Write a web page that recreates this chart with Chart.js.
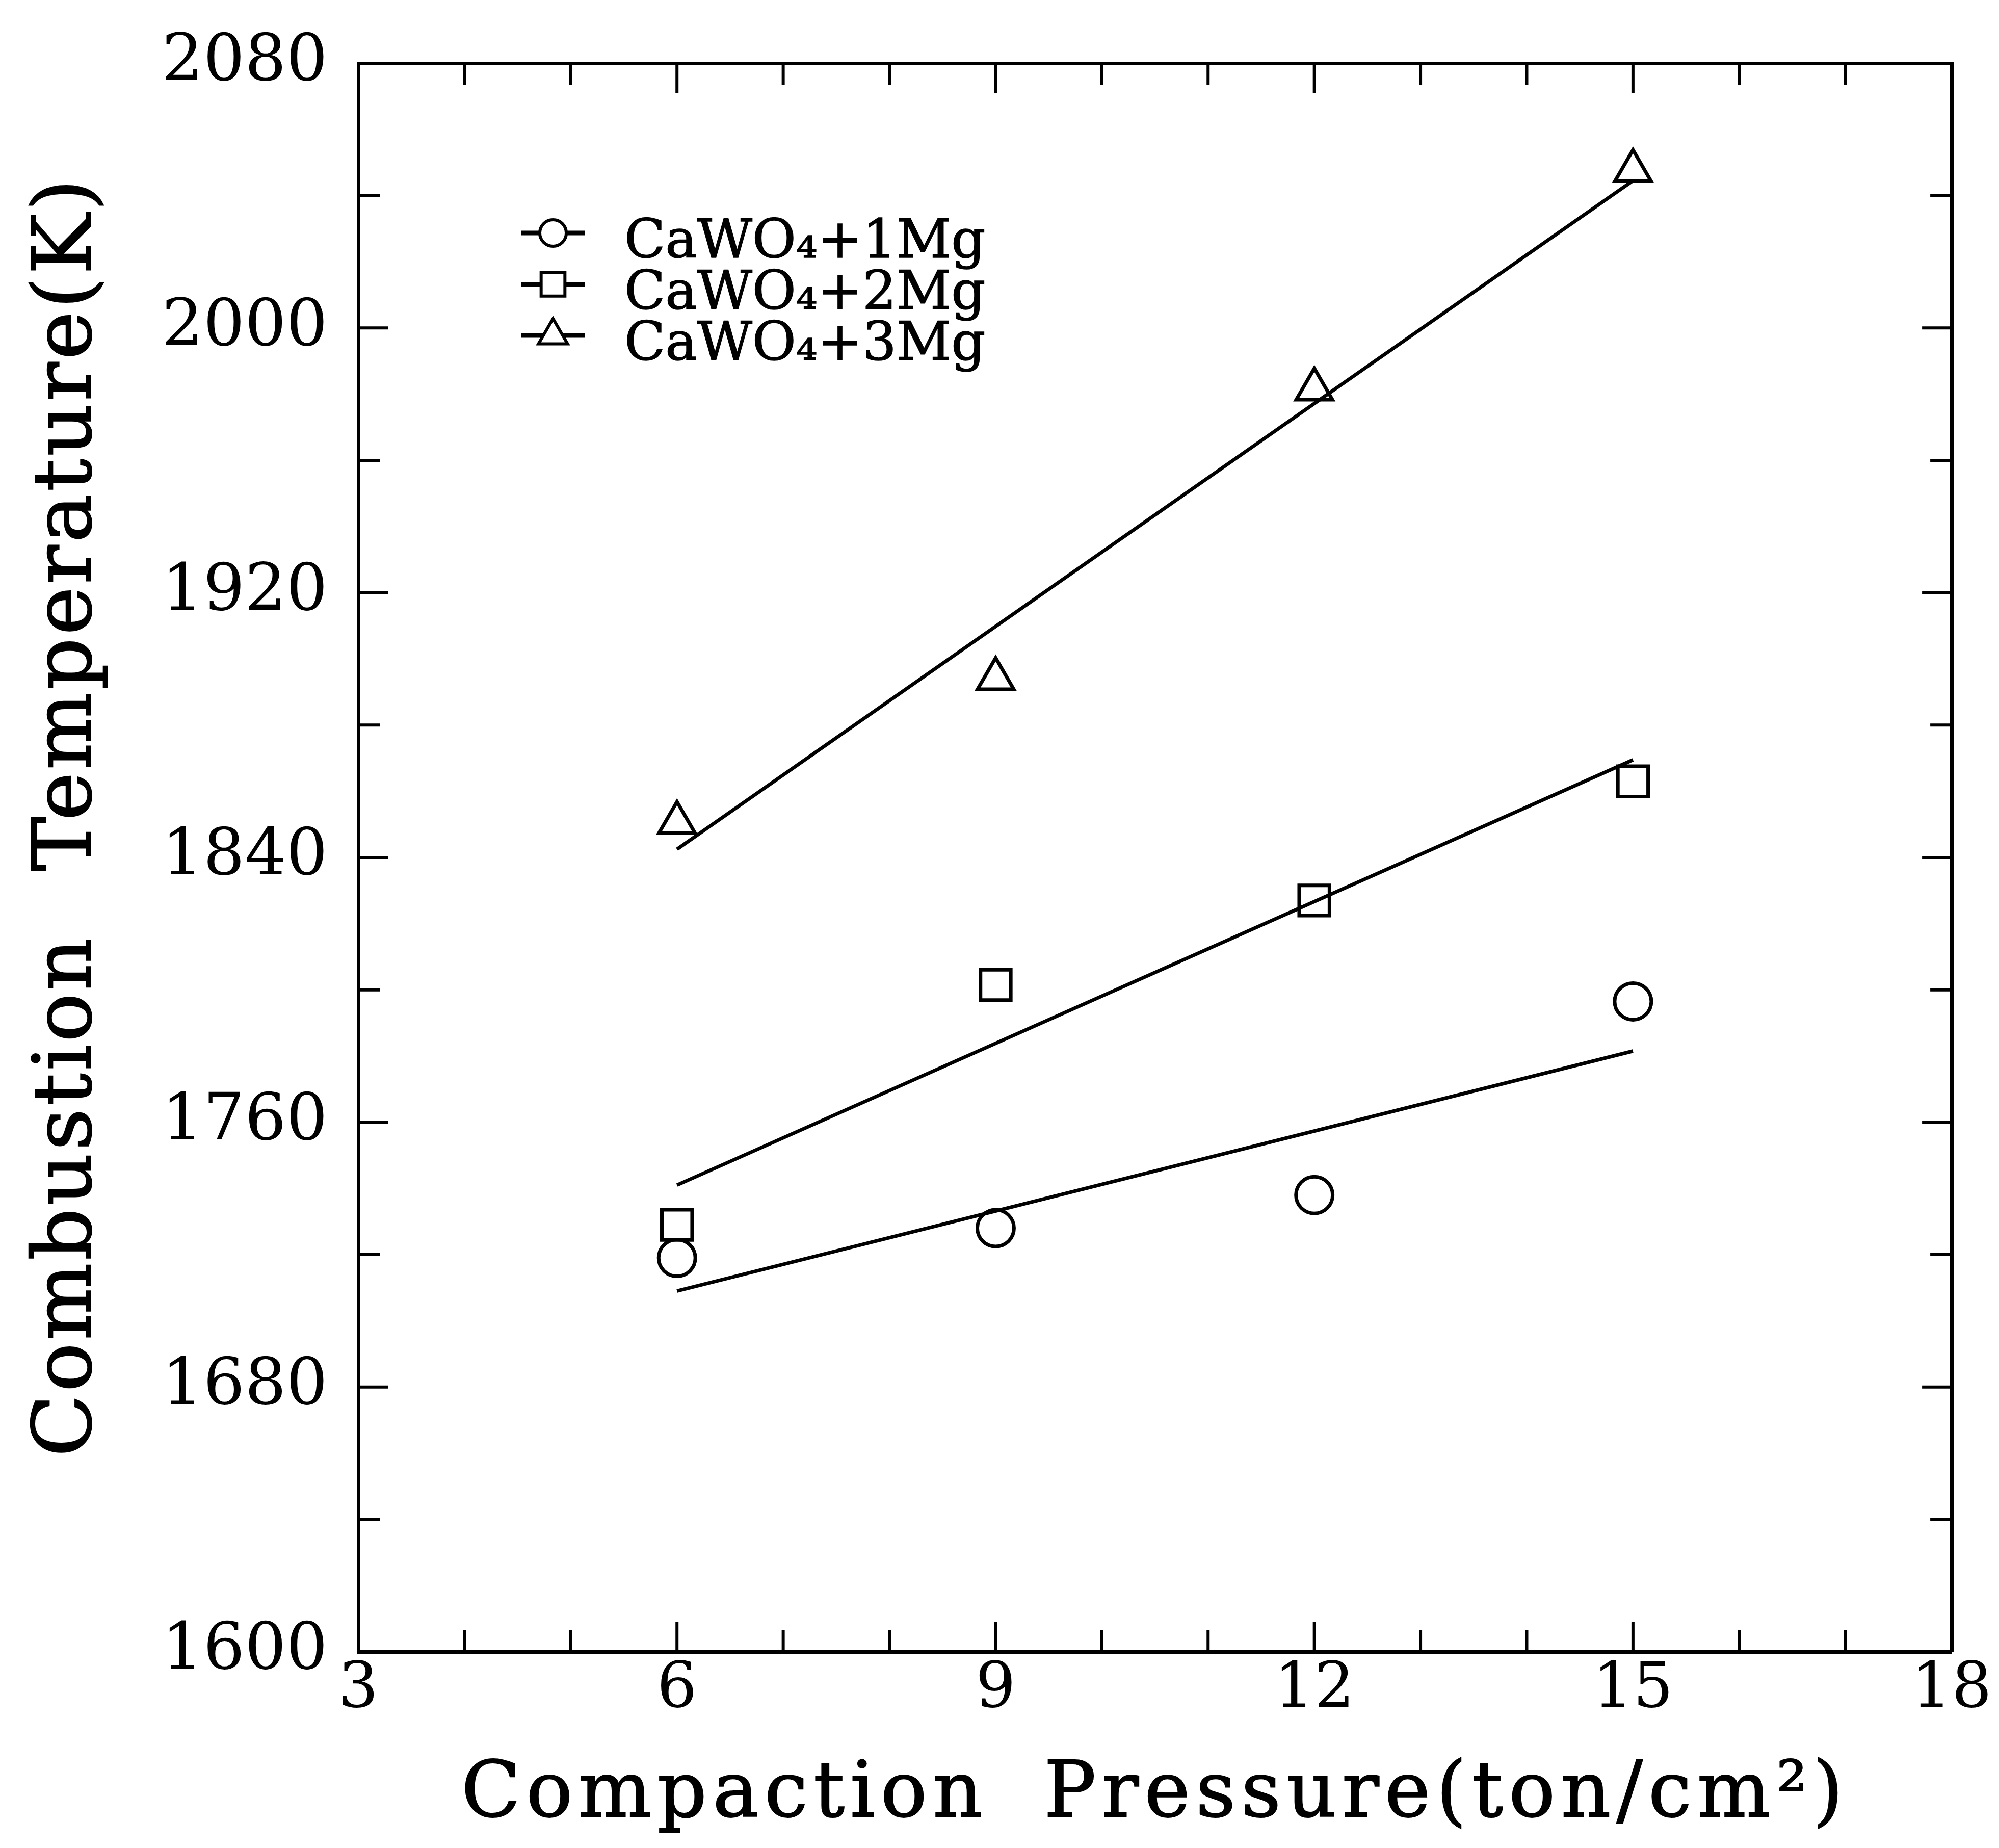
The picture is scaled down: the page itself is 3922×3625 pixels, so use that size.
<!DOCTYPE html>
<html>
<head>
<meta charset="utf-8">
<script src="https://cdn.jsdelivr.net/npm/chart.js@4.4.0/dist/chart.umd.min.js"></script>
<style>
  html, body { margin: 0; padding: 0; background: #fff; }
  #grafico { display: block; }
</style>
</head>
<body>
<canvas id="grafico" width="3922" height="3625"></canvas>
<script>
// presion de compactacion (ton/cm2) y temperatura de combustion (K)
const presiones = [6, 9, 12, 15];
const temp1Mg = [1719, 1728, 1738, 1796.5];
const temp2Mg = [1729, 1801.5, 1827, 1863];
const temp3Mg = [1850.5, 1894, 1981.5, 2047.5];

// extremos de las rectas de ajuste
const ajusteX = [6, 15];
const ajuste1Mg = [1709, 1781.5];
const ajuste2Mg = [1741, 1869.5];
const ajuste3Mg = [1842.5, 2044.5];

const etiquetas = ['CaWO₄+1Mg', 'CaWO₄+2Mg', 'CaWO₄+3Mg'];
const simbolos = ['circle', 'rect', 'triangle'];

const ticksX = [3, 6, 9, 12, 15, 18];
const ticksY = [1600, 1680, 1760, 1840, 1920, 2000, 2080];

const tituloX = 'Compaction Pressure(ton/cm²)';
const tituloY = 'Combustion Temperature(K)';

const fuente = '"DejaVu Serif", "Liberation Serif", serif';

function puntos(xs, ys) {
    return xs.map((x, i) => ({ x: x, y: ys[i] }));
}

function linea(ctx, x1, y1, x2, y2) {
    ctx.beginPath();
    ctx.moveTo(x1, y1);
    ctx.lineTo(x2, y2);
    ctx.stroke();
}

const series = [temp1Mg, temp2Mg, temp3Mg];
const ajustes = [ajuste1Mg, ajuste2Mg, ajuste3Mg];
const radios = [36, 42, 41];
const radiosLeyenda = [26, 33, 33];

const datasets = [];
ajustes.forEach(a => {
    datasets.push({
        data: puntos(ajusteX, a),
        showLine: true,
        borderColor: '#000',
        borderWidth: 7,
        pointRadius: 0,
        fill: false
    });
});
series.forEach((s, i) => {
    datasets.push({
        label: etiquetas[i],
        data: puntos(presiones, s),
        showLine: false,
        pointStyle: simbolos[i],
        pointRadius: radios[i],
        pointBorderWidth: 7,
        pointBorderColor: '#000',
        pointBackgroundColor: 'rgba(0,0,0,0)'
    });
});

// fondo blanco
const fondo = {
    id: 'fondo',
    beforeDraw(chart) {
        const ctx = chart.ctx;
        ctx.save();
        ctx.fillStyle = '#fff';
        ctx.fillRect(0, 0, chart.width, chart.height);
        ctx.restore();
    }
};

// marcas hacia adentro en los cuatro lados
const marcasInternas = {
    id: 'marcasInternas',
    afterDraw(chart) {
        const { ctx, chartArea: a, scales } = chart;
        ctx.save();
        ctx.strokeStyle = '#000';
        ctx.lineWidth = 6;
        scales.x.ticks.forEach(t => {
            const px = scales.x.getPixelForValue(t.value);
            const largo = ticksX.includes(t.value) ? 58 : 42;
            linea(ctx, px, a.bottom, px, a.bottom - largo);
            linea(ctx, px, a.top, px, a.top + largo);
        });
        scales.y.ticks.forEach(t => {
            const py = scales.y.getPixelForValue(t.value);
            const largo = ticksY.includes(t.value) ? 58 : 42;
            linea(ctx, a.left, py, a.left + largo, py);
            linea(ctx, a.right, py, a.right - largo, py);
        });
        ctx.restore();
    }
};

// titulos de los ejes con letras espaciadas
const titulos = {
    id: 'titulos',
    afterDraw(chart) {
        const { ctx, chartArea: a } = chart;
        ctx.save();
        ctx.fillStyle = '#000';
        ctx.strokeStyle = '#000';
        ctx.lineWidth = 2;
        ctx.textAlign = 'center';
        ctx.textBaseline = 'alphabetic';

        ctx.font = '152px ' + fuente;
        ctx.letterSpacing = '11px';
        ctx.wordSpacing = '50px';
        ctx.fillText(tituloX, (a.left + a.right) / 2, a.bottom + 323);
        ctx.strokeText(tituloX, (a.left + a.right) / 2, a.bottom + 323);

        ctx.font = '160px ' + fuente;
        ctx.letterSpacing = '5px';
        ctx.wordSpacing = '70px';
        ctx.translate(178, (a.top + a.bottom) / 2 - 80);
        ctx.rotate(-Math.PI / 2);
        ctx.fillText(tituloY, 0, 0);
        ctx.strokeText(tituloY, 0, 0);
        ctx.restore();
    }
};

// leyenda dentro del area del grafico
const leyenda = {
    id: 'leyenda',
    afterDraw(chart) {
        const { ctx, chartArea: a } = chart;
        const items = chart.data.datasets.filter(d => d.label);
        ctx.save();
        items.forEach((d, i) => {
            const base = a.top + 381 + i * 100.5;
            const yc = base - 48;
            const xc = a.left + 382;
            ctx.strokeStyle = '#000';
            ctx.lineWidth = 9;
            linea(ctx, xc - 62, yc, xc + 62, yc);
            ctx.fillStyle = '#fff';
            ctx.lineWidth = 6;
            Chart.helpers.drawPoint(ctx, { pointStyle: d.pointStyle, radius: radiosLeyenda[i], borderWidth: 6, rotation: 0 }, xc, yc);
            ctx.fillStyle = '#000';
            ctx.lineWidth = 1.5;
            ctx.font = '105px ' + fuente;
            ctx.textAlign = 'left';
            ctx.textBaseline = 'alphabetic';
            ctx.fillText(d.label, xc + 140, base);
            ctx.strokeText(d.label, xc + 140, base);
        });
        ctx.restore();
    }
};

const bordeEje = { display: true, color: '#000', width: 7 };
const sinRejilla = { display: false, drawTicks: false };

new Chart(document.getElementById('grafico'), {
    type: 'scatter',
    data: { datasets: datasets },
    options: {
        responsive: false,
        animation: false,
        devicePixelRatio: 1,
        layout: { padding: 0 },
        plugins: {
            legend: { display: false },
            tooltip: { enabled: false }
        },
        scales: {
            x: {
                type: 'linear',
                position: 'bottom',
                min: 3,
                max: 18,
                afterFit: s => { s.height = 385; },
                ticks: {
                    stepSize: 1,
                    autoSkip: false,
                    maxRotation: 0,
                    padding: 14,
                    color: '#000',
                    font: { family: fuente, size: 124, lineHeight: 1 },
                    callback: v => ticksX.includes(v) ? String(v) : ''
                },
                grid: sinRejilla,
                border: bordeEje
            },
            x2: {
                type: 'linear',
                position: 'top',
                min: 3,
                max: 18,
                afterFit: s => { s.height = 97; },
                ticks: { display: false },
                grid: sinRejilla,
                border: bordeEje
            },
            y: {
                type: 'linear',
                position: 'left',
                min: 1600,
                max: 2080,
                afterFit: s => { s.width = 703; },
                ticks: {
                    stepSize: 40,
                    autoSkip: false,
                    padding: 60,
                    color: '#000',
                    font: { family: fuente, size: 128, lineHeight: 1 },
                    callback: v => ticksY.includes(v) ? String(v) : ''
                },
                grid: sinRejilla,
                border: bordeEje
            },
            y2: {
                type: 'linear',
                position: 'right',
                min: 1600,
                max: 2080,
                afterFit: s => { s.width = 88; },
                ticks: { display: false },
                grid: sinRejilla,
                border: bordeEje
            }
        }
    },
    plugins: [fondo, marcasInternas, titulos, leyenda]
});
</script>
</body>
</html>
